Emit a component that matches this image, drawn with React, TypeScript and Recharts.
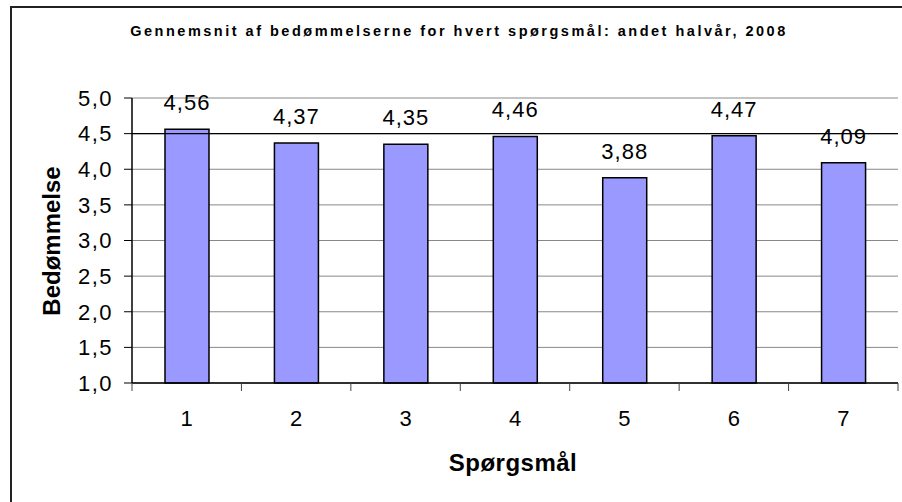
import React from 'react';
import {
  BarChart,
  Bar,
  XAxis,
  YAxis,
  CartesianGrid,
  ReferenceLine,
  LabelList,
} from 'recharts';

const questions = ['1', '2', '3', '4', '5', '6', '7'];
const ratings = [4.56, 4.37, 4.35, 4.46, 3.88, 4.47, 4.09];
const yTicks = [1, 1.5, 2, 2.5, 3, 3.5, 4, 4.5, 5];

const data = questions.map((q, i) => ({ q, value: ratings[i] }));

const font = '"Liberation Sans", Arial, sans-serif';
const comma = (v: number, digits: number) => v.toFixed(digits).replace('.', ',');
const X_TICK_MARGIN = 27;

// category label plus a tick mark on each category boundary (Excel style)
function QuestionTick(props: any) {
  const { x, y, payload, index } = props;
  const half = payload?.offset ?? 0;
  const axisY = y - X_TICK_MARGIN;
  return (
    <g>
      {index === 0 && (
        <line x1={x - half} x2={x - half} y1={axisY} y2={axisY + 8} stroke="#444" />
      )}
      <line x1={x + half} x2={x + half} y1={axisY} y2={axisY + 8} stroke="#444" />
      <text
        x={x}
        y={y}
        dy="0.71em"
        textAnchor="middle"
        fill="#000"
        fontSize={22}
        fontFamily={font}
      >
        {payload.value}
      </text>
    </g>
  );
}

export default function App() {
  return (
    <div
      style={{
        position: 'absolute',
        left: 0,
        top: 0,
        width: 902,
        height: 502,
        background: '#fff',
        overflow: 'hidden',
        fontFamily: font,
      }}
    >
      <div
        style={{
          position: 'absolute',
          left: 10,
          top: 6,
          width: 910,
          height: 510,
          borderLeft: '2px solid #222',
          borderTop: '2px solid #222',
        }}
      />
      <div
        style={{
          position: 'absolute',
          left: 0,
          width: 918,
          top: 23,
          textAlign: 'center',
          fontSize: 14.5,
          fontWeight: 'bold',
          letterSpacing: 2.5,
          color: '#000',
        }}
      >
        Gennemsnit af bedømmelserne for hvert spørgsmål: andet halvår, 2008
      </div>
      <div
        style={{
          position: 'absolute',
          left: 52,
          top: 241,
          transform: 'translate(-50%, -50%) rotate(-90deg)',
          fontSize: 24,
          fontWeight: 'bold',
          whiteSpace: 'nowrap',
        }}
      >
        Bedømmelse
      </div>
      <div
        style={{
          position: 'absolute',
          left: 513,
          top: 463,
          transform: 'translate(-50%, -50%)',
          fontSize: 24,
          fontWeight: 'bold',
          letterSpacing: 0.5,
          whiteSpace: 'nowrap',
        }}
      >
        Spørgsmål
      </div>
      <div style={{ position: 'absolute', left: 0, top: 0 }}>
        <BarChart
          width={902}
          height={502}
          data={data}
          margin={{ top: 98, right: 4, left: 72, bottom: 79 }}
        >
          <CartesianGrid stroke="#888" vertical={false} />
          <XAxis
            dataKey="q"
            height={40}
            tickSize={0}
            tickMargin={X_TICK_MARGIN}
            interval={0}
            tickLine={false}
            axisLine={{ stroke: '#000', strokeWidth: 1.5 }}
            tick={<QuestionTick />}
          />
          <YAxis
            domain={[1, 5]}
            ticks={yTicks}
            width={60}
            tickSize={8}
            tickMargin={11}
            interval={0}
            tickFormatter={(v: number) => comma(v, 1)}
            tick={{ fill: '#000', fontSize: 22, fontFamily: font, letterSpacing: 1.5 }}
            tickLine={{ stroke: '#000' }}
            axisLine={{ stroke: '#000', strokeWidth: 1.5 }}
          />
          <YAxis
            yAxisId="r"
            orientation="right"
            domain={[1, 5]}
            width={0}
            tick={false}
            tickLine={false}
            axisLine={{ stroke: '#888', strokeWidth: 1.5 }}
          />
          <ReferenceLine y={4.5} stroke="#000" strokeWidth={1.2} />
          <Bar
            dataKey="value"
            fill="#9999FF"
            stroke="#000"
            strokeWidth={1.5}
            barSize={44}
            isAnimationActive={false}
          >
            <LabelList
              dataKey="value"
              position="top"
              offset={19}
              formatter={(v: number) => comma(v, 2)}
              style={{ fill: '#000', fontSize: 22, fontFamily: font, letterSpacing: 1 }}
            />
          </Bar>
        </BarChart>
      </div>
    </div>
  );
}
